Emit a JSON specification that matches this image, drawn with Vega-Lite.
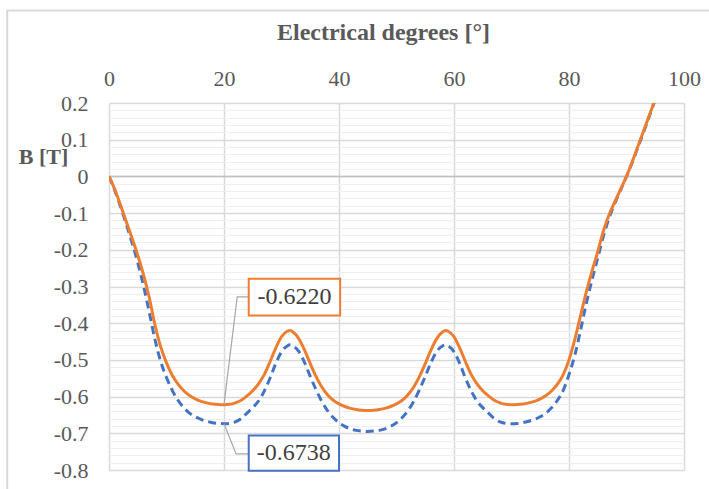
{
  "$schema": "https://vega.github.io/schema/vega-lite/v6.json",
  "width": 575,
  "height": 367,
  "autosize": "none",
  "padding": {"left": 109, "top": 103, "right": 25, "bottom": 19},
  "background": "white",
  "config": {"view": {"stroke": null}, "font": "Liberation Serif, Times New Roman, serif"},
  "resolve": {"axis": {"x": "independent", "y": "independent"}},
  "datasets": {
    "curves": [
      {"deg": 0, "B": 0, "s": "A"}, {"deg": 1, "B": -0.038, "s": "A"}, {"deg": 2, "B": -0.082, "s": "A"}, {"deg": 3, "B": -0.13, "s": "A"}, {"deg": 4, "B": -0.18, "s": "A"}, {"deg": 5, "B": -0.235, "s": "A"}, {"deg": 6, "B": -0.298, "s": "A"}, {"deg": 7, "B": -0.37, "s": "A"}, {"deg": 8, "B": -0.445, "s": "A"}, {"deg": 9, "B": -0.505, "s": "A"}, {"deg": 10, "B": -0.548, "s": "A"}, {"deg": 11, "B": -0.583, "s": "A"}, {"deg": 12, "B": -0.61, "s": "A"}, {"deg": 13, "B": -0.63, "s": "A"}, {"deg": 14, "B": -0.645, "s": "A"}, {"deg": 15, "B": -0.655, "s": "A"}, {"deg": 16, "B": -0.662, "s": "A"}, {"deg": 17, "B": -0.667, "s": "A"}, {"deg": 18, "B": -0.671, "s": "A"}, {"deg": 19, "B": -0.673, "s": "A"}, {"deg": 20, "B": -0.6738, "s": "A"}, {"deg": 21, "B": -0.673, "s": "A"}, {"deg": 22, "B": -0.669, "s": "A"}, {"deg": 23, "B": -0.66, "s": "A"}, {"deg": 24, "B": -0.645, "s": "A"}, {"deg": 25, "B": -0.63, "s": "A"}, {"deg": 26, "B": -0.612, "s": "A"}, {"deg": 27, "B": -0.585, "s": "A"}, {"deg": 28, "B": -0.55, "s": "A"}, {"deg": 29, "B": -0.51, "s": "A"}, {"deg": 30, "B": -0.478, "s": "A"}, {"deg": 31, "B": -0.462, "s": "A"}, {"deg": 31.5, "B": -0.459, "s": "A"}, {"deg": 32, "B": -0.462, "s": "A"}, {"deg": 33, "B": -0.477, "s": "A"}, {"deg": 34, "B": -0.507, "s": "A"}, {"deg": 35, "B": -0.545, "s": "A"}, {"deg": 36, "B": -0.581, "s": "A"}, {"deg": 37, "B": -0.613, "s": "A"}, {"deg": 38, "B": -0.638, "s": "A"}, {"deg": 39, "B": -0.657, "s": "A"}, {"deg": 40, "B": -0.671, "s": "A"}, {"deg": 41, "B": -0.681, "s": "A"}, {"deg": 42, "B": -0.688, "s": "A"}, {"deg": 43, "B": -0.692, "s": "A"}, {"deg": 44, "B": -0.694, "s": "A"}, {"deg": 45, "B": -0.695, "s": "A"},
      {"deg": 46, "B": -0.694, "s": "A"}, {"deg": 47, "B": -0.692, "s": "A"}, {"deg": 48, "B": -0.688, "s": "A"}, {"deg": 49, "B": -0.681, "s": "A"}, {"deg": 50, "B": -0.671, "s": "A"}, {"deg": 51, "B": -0.657, "s": "A"}, {"deg": 52, "B": -0.638, "s": "A"}, {"deg": 53, "B": -0.613, "s": "A"}, {"deg": 54, "B": -0.581, "s": "A"}, {"deg": 55, "B": -0.545, "s": "A"}, {"deg": 56, "B": -0.507, "s": "A"}, {"deg": 57, "B": -0.477, "s": "A"}, {"deg": 58, "B": -0.462, "s": "A"}, {"deg": 58.5, "B": -0.459, "s": "A"}, {"deg": 59, "B": -0.462, "s": "A"}, {"deg": 60, "B": -0.478, "s": "A"}, {"deg": 61, "B": -0.51, "s": "A"}, {"deg": 62, "B": -0.55, "s": "A"}, {"deg": 63, "B": -0.585, "s": "A"}, {"deg": 64, "B": -0.612, "s": "A"}, {"deg": 65, "B": -0.63, "s": "A"}, {"deg": 66, "B": -0.645, "s": "A"}, {"deg": 67, "B": -0.66, "s": "A"}, {"deg": 68, "B": -0.669, "s": "A"}, {"deg": 69, "B": -0.673, "s": "A"}, {"deg": 70, "B": -0.6738, "s": "A"}, {"deg": 71, "B": -0.673, "s": "A"}, {"deg": 72, "B": -0.671, "s": "A"}, {"deg": 73, "B": -0.667, "s": "A"}, {"deg": 74, "B": -0.662, "s": "A"}, {"deg": 75, "B": -0.655, "s": "A"}, {"deg": 76, "B": -0.645, "s": "A"}, {"deg": 77, "B": -0.63, "s": "A"}, {"deg": 78, "B": -0.61, "s": "A"}, {"deg": 79, "B": -0.583, "s": "A"}, {"deg": 80, "B": -0.54, "s": "A"}, {"deg": 81, "B": -0.488, "s": "A"}, {"deg": 82, "B": -0.42, "s": "A"}, {"deg": 83, "B": -0.347, "s": "A"}, {"deg": 84, "B": -0.282, "s": "A"}, {"deg": 85, "B": -0.222, "s": "A"}, {"deg": 86, "B": -0.162, "s": "A"}, {"deg": 87, "B": -0.112, "s": "A"}, {"deg": 88, "B": -0.072, "s": "A"}, {"deg": 89, "B": -0.036, "s": "A"}, {"deg": 90, "B": 0, "s": "A"}, {"deg": 91, "B": 0.038, "s": "A"}, {"deg": 92, "B": 0.08, "s": "A"}, {"deg": 93, "B": 0.122, "s": "A"}, {"deg": 94, "B": 0.165, "s": "A"}, {"deg": 95, "B": 0.21, "s": "A"},
      {"deg": 0, "B": 0, "s": "B"}, {"deg": 1, "B": -0.035, "s": "B"}, {"deg": 2, "B": -0.078, "s": "B"}, {"deg": 3, "B": -0.123, "s": "B"}, {"deg": 4, "B": -0.168, "s": "B"}, {"deg": 5, "B": -0.215, "s": "B"}, {"deg": 6, "B": -0.268, "s": "B"}, {"deg": 7, "B": -0.33, "s": "B"}, {"deg": 8, "B": -0.405, "s": "B"}, {"deg": 9, "B": -0.465, "s": "B"}, {"deg": 10, "B": -0.508, "s": "B"}, {"deg": 11, "B": -0.542, "s": "B"}, {"deg": 12, "B": -0.566, "s": "B"}, {"deg": 13, "B": -0.584, "s": "B"}, {"deg": 14, "B": -0.597, "s": "B"}, {"deg": 15, "B": -0.606, "s": "B"}, {"deg": 16, "B": -0.613, "s": "B"}, {"deg": 17, "B": -0.617, "s": "B"}, {"deg": 18, "B": -0.62, "s": "B"}, {"deg": 19, "B": -0.6215, "s": "B"}, {"deg": 20, "B": -0.622, "s": "B"}, {"deg": 21, "B": -0.621, "s": "B"}, {"deg": 22, "B": -0.617, "s": "B"}, {"deg": 23, "B": -0.61, "s": "B"}, {"deg": 24, "B": -0.598, "s": "B"}, {"deg": 25, "B": -0.584, "s": "B"}, {"deg": 26, "B": -0.565, "s": "B"}, {"deg": 27, "B": -0.54, "s": "B"}, {"deg": 28, "B": -0.505, "s": "B"}, {"deg": 29, "B": -0.468, "s": "B"}, {"deg": 30, "B": -0.437, "s": "B"}, {"deg": 31, "B": -0.422, "s": "B"}, {"deg": 31.5, "B": -0.42, "s": "B"}, {"deg": 32, "B": -0.424, "s": "B"}, {"deg": 33, "B": -0.442, "s": "B"}, {"deg": 34, "B": -0.473, "s": "B"}, {"deg": 35, "B": -0.51, "s": "B"}, {"deg": 36, "B": -0.545, "s": "B"}, {"deg": 37, "B": -0.574, "s": "B"}, {"deg": 38, "B": -0.595, "s": "B"}, {"deg": 39, "B": -0.61, "s": "B"}, {"deg": 40, "B": -0.62, "s": "B"}, {"deg": 41, "B": -0.627, "s": "B"}, {"deg": 42, "B": -0.632, "s": "B"}, {"deg": 43, "B": -0.635, "s": "B"}, {"deg": 44, "B": -0.637, "s": "B"}, {"deg": 45, "B": -0.638, "s": "B"},
      {"deg": 46, "B": -0.637, "s": "B"}, {"deg": 47, "B": -0.635, "s": "B"}, {"deg": 48, "B": -0.632, "s": "B"}, {"deg": 49, "B": -0.627, "s": "B"}, {"deg": 50, "B": -0.62, "s": "B"}, {"deg": 51, "B": -0.61, "s": "B"}, {"deg": 52, "B": -0.595, "s": "B"}, {"deg": 53, "B": -0.574, "s": "B"}, {"deg": 54, "B": -0.545, "s": "B"}, {"deg": 55, "B": -0.51, "s": "B"}, {"deg": 56, "B": -0.473, "s": "B"}, {"deg": 57, "B": -0.442, "s": "B"}, {"deg": 58, "B": -0.424, "s": "B"}, {"deg": 58.5, "B": -0.42, "s": "B"}, {"deg": 59, "B": -0.422, "s": "B"}, {"deg": 60, "B": -0.437, "s": "B"}, {"deg": 61, "B": -0.468, "s": "B"}, {"deg": 62, "B": -0.505, "s": "B"}, {"deg": 63, "B": -0.54, "s": "B"}, {"deg": 64, "B": -0.565, "s": "B"}, {"deg": 65, "B": -0.584, "s": "B"}, {"deg": 66, "B": -0.598, "s": "B"}, {"deg": 67, "B": -0.61, "s": "B"}, {"deg": 68, "B": -0.617, "s": "B"}, {"deg": 69, "B": -0.621, "s": "B"}, {"deg": 70, "B": -0.622, "s": "B"}, {"deg": 71, "B": -0.6215, "s": "B"}, {"deg": 72, "B": -0.62, "s": "B"}, {"deg": 73, "B": -0.617, "s": "B"}, {"deg": 74, "B": -0.613, "s": "B"}, {"deg": 75, "B": -0.606, "s": "B"}, {"deg": 76, "B": -0.597, "s": "B"}, {"deg": 77, "B": -0.584, "s": "B"}, {"deg": 78, "B": -0.566, "s": "B"}, {"deg": 79, "B": -0.54, "s": "B"}, {"deg": 80, "B": -0.5, "s": "B"}, {"deg": 81, "B": -0.445, "s": "B"}, {"deg": 82, "B": -0.38, "s": "B"}, {"deg": 83, "B": -0.315, "s": "B"}, {"deg": 84, "B": -0.258, "s": "B"}, {"deg": 85, "B": -0.205, "s": "B"}, {"deg": 86, "B": -0.148, "s": "B"}, {"deg": 87, "B": -0.103, "s": "B"}, {"deg": 88, "B": -0.068, "s": "B"}, {"deg": 89, "B": -0.034, "s": "B"}, {"deg": 90, "B": 0, "s": "B"}, {"deg": 91, "B": 0.04, "s": "B"}, {"deg": 92, "B": 0.083, "s": "B"}, {"deg": 93, "B": 0.125, "s": "B"}, {"deg": 94, "B": 0.168, "s": "B"}, {"deg": 95, "B": 0.21, "s": "B"}
    ],
    "callouts": [
      {"s": "B", "label": "-0.6220", "bx": 24.3, "bx2": 40.2, "by": -0.279, "by2": -0.379, "tx": 32.25, "ty": -0.329},
      {"s": "A", "label": "-0.6738", "bx": 24.3, "bx2": 40.0, "by": -0.706, "by2": -0.802, "tx": 32.15, "ty": -0.754}
    ],
    "leaders": [
      {"s": "B", "ord": 0, "deg": 20, "B": -0.622},
      {"s": "B", "ord": 1, "deg": 22.3, "B": -0.328},
      {"s": "B", "ord": 2, "deg": 24.3, "B": -0.328},
      {"s": "A", "ord": 0, "deg": 20, "B": -0.6738},
      {"s": "A", "ord": 1, "deg": 22.1, "B": -0.756},
      {"s": "A", "ord": 2, "deg": 24.3, "B": -0.756}
    ]
  },
  "layer": [
    {
      "data": {"values": [{}]},
      "mark": {"type": "rule", "color": "#bfbfbf", "strokeWidth": 1.5},
      "encoding": {
        "x": {
          "datum": 0, "type": "quantitative",
          "scale": {"domain": [0, 100], "nice": false},
          "axis": {
            "orient": "top", "values": [0, 20, 40, 60, 80, 100],
            "grid": true, "gridColor": "#d9d9d9", "gridWidth": 1.5,
            "domain": false, "ticks": false, "tickSize": 0,
            "labelPadding": 13, "labelFlush": false, "labelOverlap": false,
            "labelFont": "Liberation Serif, Times New Roman, serif", "labelFontSize": 22, "labelColor": "#595959",
            "title": "Electrical degrees [°]", "titleFont": "Liberation Serif, Times New Roman, serif", "titleFontSize": 24,
            "titleFontWeight": "bold", "titleColor": "#595959",
            "titleX": 274, "titleY": -64, "titleAlign": "center", "titleBaseline": "alphabetic"
          }
        },
        "x2": {"datum": 100},
        "y": {
          "datum": 0, "type": "quantitative",
          "scale": {"domain": [-0.8, 0.2], "nice": false, "zero": false},
          "axis": {
            "values": [-0.8, -0.78, -0.76, -0.74, -0.72, -0.7, -0.68, -0.66, -0.64, -0.62, -0.6, -0.58, -0.56, -0.54, -0.52, -0.5, -0.48, -0.46, -0.44, -0.42, -0.4, -0.38, -0.36, -0.34, -0.32, -0.3, -0.28, -0.26, -0.24, -0.22, -0.2, -0.18, -0.16, -0.14, -0.12, -0.1, -0.08, -0.06, -0.04, -0.02, 0, 0.02, 0.04, 0.06, 0.08, 0.1, 0.12, 0.14, 0.16, 0.18, 0.2],
            "grid": true,
            "gridColor": {"condition": {"test": "abs(round(datum.value*50)) % 5 == 0", "value": "#d9d9d9"}, "value": "#efefef"},
            "gridWidth": {"condition": {"test": "abs(round(datum.value*50)) % 5 == 0", "value": 1.5}, "value": 1},
            "domain": false, "ticks": false, "tickSize": 0,
            "labelExpr": "abs(round(datum.value*50)) % 5 == 0 ? '' + datum.value : ''",
            "labelPadding": 21, "labelFlush": false, "labelOverlap": false,
            "labelFont": "Liberation Serif, Times New Roman, serif", "labelFontSize": 22, "labelColor": "#595959",
            "title": "B [T]", "titleFont": "Liberation Serif, Times New Roman, serif", "titleFontSize": 22,
            "titleFontWeight": "bold", "titleColor": "#595959", "titleAngle": 0,
            "titleX": -66, "titleY": 60, "titleAlign": "center", "titleBaseline": "alphabetic"
          }
        }
      }
    },
    {
      "data": {"values": [{}]},
      "mark": {"type": "rect", "fillOpacity": 0, "stroke": "#d9d9d9", "strokeWidth": 2, "clip": false},
      "encoding": {
        "x": {"datum": -17.7, "type": "quantitative", "axis": null},
        "x2": {"datum": 110},
        "y": {"datum": 0.452, "type": "quantitative", "axis": null},
        "y2": {"datum": -0.95}
      }
    },
    {
      "data": {"name": "curves"},
      "transform": [{"filter": "datum.s == 'A'"}],
      "mark": {"type": "line", "interpolate": "monotone", "color": "#4472C4", "strokeWidth": 3, "strokeDash": [8, 5], "clip": true},
      "encoding": {
        "x": {"field": "deg", "type": "quantitative", "axis": null},
        "y": {"field": "B", "type": "quantitative", "axis": null}
      }
    },
    {
      "data": {"name": "curves"},
      "transform": [{"filter": "datum.s == 'B'"}],
      "mark": {"type": "line", "interpolate": "monotone", "color": "#ED7D31", "strokeWidth": 3, "clip": true},
      "encoding": {
        "x": {"field": "deg", "type": "quantitative", "axis": null},
        "y": {"field": "B", "type": "quantitative", "axis": null}
      }
    },
    {
      "data": {"name": "leaders"},
      "mark": {"type": "line", "color": "#a6a6a6", "strokeWidth": 1.2},
      "encoding": {
        "x": {"field": "deg", "type": "quantitative", "axis": null},
        "y": {"field": "B", "type": "quantitative", "axis": null},
        "detail": {"field": "s"},
        "order": {"field": "ord"}
      }
    },
    {
      "data": {"name": "callouts"},
      "mark": {"type": "rect", "fill": "white", "strokeWidth": 2, "clip": false},
      "encoding": {
        "x": {"field": "bx", "type": "quantitative", "axis": null},
        "x2": {"field": "bx2"},
        "y": {"field": "by", "type": "quantitative", "axis": null},
        "y2": {"field": "by2"},
        "stroke": {"field": "s", "type": "nominal", "scale": {"domain": ["A", "B"], "range": ["#4472C4", "#ED7D31"]}, "legend": null}
      }
    },
    {
      "data": {"name": "callouts"},
      "mark": {"type": "text", "font": "Liberation Serif, Times New Roman, serif", "fontSize": 24, "color": "#404040", "align": "center", "baseline": "middle"},
      "encoding": {
        "x": {"field": "tx", "type": "quantitative", "axis": null},
        "y": {"field": "ty", "type": "quantitative", "axis": null},
        "text": {"field": "label"}
      }
    }
  ]
}
